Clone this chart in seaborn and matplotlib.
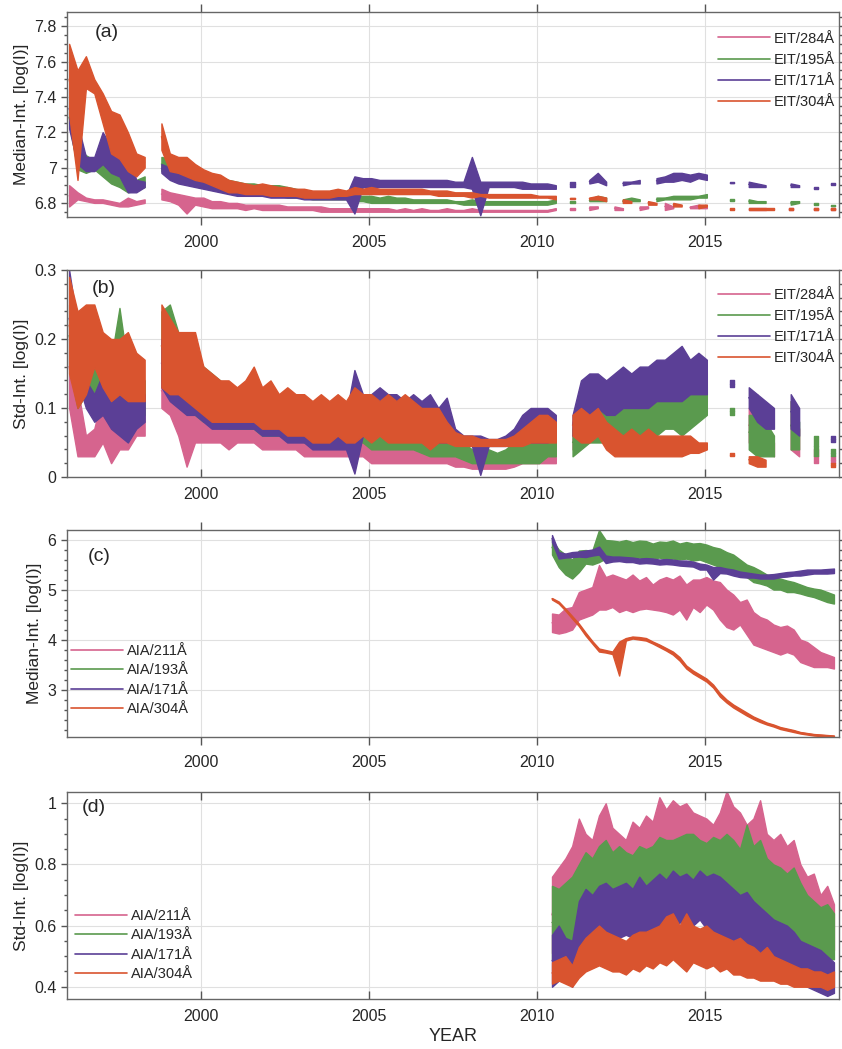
import numpy as np
import pandas as pd
import matplotlib
matplotlib.use("Agg")
import matplotlib.pyplot as plt
import seaborn as sns
from matplotlib.ticker import MultipleLocator, FuncFormatter
from matplotlib.lines import Line2D

N = np.nan

# EIT: one (low, high) pair per quarter year, 1996.00 ... 2018.75
eit_start, eit_step = 1996.0, 0.25
eit_names = ['EIT/284Å', 'EIT/195Å', 'EIT/171Å', 'EIT/304Å']

med_284 = [6.78, 6.90, 6.82, 6.86, 6.81, 6.83, 6.80, 6.82,
           6.80, 6.82, 6.79, 6.81, 6.78, 6.80, 6.78, 6.83,
           6.79, 6.81, 6.80, 6.82, N, N, 6.82, 6.88,
           6.81, 6.86, 6.79, 6.85, 6.74, 6.84, 6.79, 6.83,
           6.78, 6.83, 6.77, 6.81, 6.77, 6.81, 6.77, 6.80,
           6.77, 6.80, 6.76, 6.79, 6.77, 6.79, 6.76, 6.79,
           6.76, 6.79, 6.76, 6.79, 6.76, 6.78, 6.76, 6.78,
           6.76, 6.78, 6.76, 6.78, 6.75, 6.78, 6.75, 6.77,
           6.75, 6.77, 6.75, 6.77, 6.75, 6.77, 6.75, 6.77,
           6.75, 6.77, 6.75, 6.77, 6.75, 6.77, 6.75, 6.76,
           6.75, 6.77, 6.75, 6.76, 6.75, 6.77, 6.75, 6.76,
           6.75, 6.76, 6.75, 6.77, 6.75, 6.76, 6.75, 6.76,
           6.75, 6.77, 6.75, 6.76, 6.75, 6.76, 6.75, 6.76,
           6.75, 6.76, 6.75, 6.76, 6.75, 6.76, 6.75, 6.76,
           6.75, 6.76, 6.75, 6.76, 6.76, 6.77, N, N,
           6.76, 6.77, N, N, 6.76, 6.78, 6.77, 6.78,
           N, N, 6.76, 6.78, 6.76, 6.77, N, N,
           6.76, 6.78, 6.77, 6.78, N, N, 6.76, 6.80,
           6.77, 6.78, N, N, 6.77, 6.78, 6.77, 6.79,
           6.77, 6.78, N, N, N, N, N, N,
           N, N, 6.76, 6.77, 6.76, 6.77, 6.76, 6.77,
           N, N, N, N, 6.76, 6.77, N, N,
           N, N, 6.76, 6.77, N, N, 6.76, 6.77]

med_195 = [7.25, 7.32, 6.99, 7.12, 6.97, 7.07, 6.99, 7.04,
           6.95, 7.08, 6.91, 7.00, 6.89, 6.96, 6.86, 6.98,
           6.87, 6.93, 6.89, 6.95, N, N, 6.98, 7.06,
           6.96, 7.05, 6.94, 7.03, 6.93, 7.02, 6.92, 7.00,
           6.90, 6.98, 6.89, 6.96, 6.87, 6.95, 6.86, 6.93,
           6.85, 6.92, 6.85, 6.91, 6.85, 6.91, 6.84, 6.90,
           6.84, 6.90, 6.84, 6.90, 6.83, 6.89, 6.83, 6.88,
           6.83, 6.87, 6.82, 6.86, 6.82, 6.85, 6.82, 6.85,
           6.82, 6.85, 6.82, 6.84, 6.81, 6.84, 6.81, 6.84,
           6.80, 6.84, 6.80, 6.83, 6.80, 6.84, 6.80, 6.83,
           6.80, 6.83, 6.80, 6.82, 6.80, 6.82, 6.80, 6.82,
           6.80, 6.82, 6.80, 6.82, 6.80, 6.81, 6.79, 6.81,
           6.79, 6.82, 6.79, 6.81, 6.79, 6.81, 6.79, 6.81,
           6.79, 6.81, 6.79, 6.81, 6.79, 6.81, 6.79, 6.81,
           6.79, 6.81, 6.79, 6.81, 6.80, 6.82, N, N,
           6.80, 6.81, N, N, 6.81, 6.82, 6.81, 6.84,
           6.81, 6.83, N, N, 6.80, 6.82, 6.81, 6.83,
           6.81, 6.82, N, N, 6.81, 6.83, 6.82, 6.83,
           6.82, 6.84, 6.82, 6.84, 6.82, 6.84, 6.83, 6.84,
           6.83, 6.85, N, N, N, N, 6.81, 6.82,
           N, N, 6.80, 6.82, 6.80, 6.81, 6.80, 6.81,
           N, N, N, N, 6.79, 6.81, 6.80, 6.81,
           N, N, 6.79, 6.80, N, N, 6.78, 6.79]

med_171 = [7.22, 7.45, 7.02, 7.25, 6.98, 7.06, 6.98, 7.06,
           7.02, 7.20, 6.97, 7.12, 6.95, 7.10, 6.86, 7.08,
           6.86, 6.93, 6.89, 6.92, N, N, 6.97, 7.02,
           6.93, 7.00, 6.91, 6.98, 6.90, 6.97, 6.89, 6.95,
           6.88, 6.94, 6.87, 6.93, 6.86, 6.92, 6.85, 6.90,
           6.84, 6.89, 6.84, 6.88, 6.84, 6.88, 6.84, 6.88,
           6.83, 6.87, 6.83, 6.87, 6.83, 6.86, 6.83, 6.86,
           6.82, 6.85, 6.82, 6.85, 6.82, 6.84, 6.82, 6.84,
           6.82, 6.84, 6.82, 6.84, 6.74, 6.95, 6.89, 6.94,
           6.89, 6.94, 6.89, 6.93, 6.89, 6.93, 6.89, 6.93,
           6.89, 6.93, 6.89, 6.93, 6.89, 6.93, 6.89, 6.93,
           6.89, 6.93, 6.89, 6.93, 6.89, 6.92, 6.89, 6.92,
           6.88, 7.06, 6.73, 6.92, 6.89, 6.92, 6.89, 6.92,
           6.89, 6.92, 6.89, 6.92, 6.88, 6.92, 6.88, 6.91,
           6.88, 6.91, 6.88, 6.91, 6.88, 6.90, N, N,
           6.89, 6.92, N, N, 6.91, 6.93, 6.92, 6.97,
           6.90, 6.92, N, N, 6.90, 6.92, 6.91, 6.92,
           6.91, 6.93, N, N, 6.91, 6.94, 6.92, 6.95,
           6.92, 6.97, 6.93, 6.97, 6.92, 6.96, 6.94, 6.97,
           6.93, 6.96, N, N, N, N, 6.91, 6.92,
           N, N, 6.89, 6.92, 6.89, 6.91, 6.89, 6.90,
           N, N, N, N, 6.89, 6.91, 6.89, 6.90,
           N, N, 6.88, 6.89, N, N, 6.90, 6.91]

med_304 = [7.30, 7.70, 6.93, 7.55, 7.45, 7.63, 7.42, 7.50,
           7.25, 7.42, 7.08, 7.32, 7.05, 7.30, 6.98, 7.20,
           6.95, 7.08, 7.00, 7.06, N, N, 7.10, 7.25,
           6.98, 7.08, 6.97, 7.06, 6.95, 7.06, 6.93, 7.02,
           6.92, 6.99, 6.90, 6.97, 6.88, 6.96, 6.86, 6.93,
           6.86, 6.92, 6.85, 6.91, 6.85, 6.90, 6.85, 6.91,
           6.84, 6.90, 6.84, 6.89, 6.84, 6.89, 6.84, 6.88,
           6.83, 6.88, 6.83, 6.87, 6.83, 6.87, 6.83, 6.87,
           6.84, 6.88, 6.84, 6.87, 6.85, 6.89, 6.85, 6.88,
           6.85, 6.89, 6.85, 6.88, 6.85, 6.88, 6.85, 6.88,
           6.85, 6.88, 6.85, 6.88, 6.85, 6.88, 6.85, 6.87,
           6.84, 6.87, 6.84, 6.87, 6.84, 6.86, 6.84, 6.86,
           6.83, 6.86, 6.84, 6.85, 6.83, 6.85, 6.83, 6.85,
           6.83, 6.85, 6.83, 6.85, 6.83, 6.85, 6.83, 6.85,
           6.83, 6.84, 6.83, 6.84, 6.82, 6.84, N, N,
           6.82, 6.83, N, N, 6.82, 6.83, 6.82, 6.84,
           6.81, 6.83, N, N, 6.80, 6.82, 6.80, 6.81,
           N, N, 6.79, 6.81, 6.79, 6.80, N, N,
           6.78, 6.80, 6.78, 6.79, N, N, 6.77, 6.79,
           6.78, 6.79, N, N, N, N, 6.76, 6.77,
           N, N, 6.76, 6.77, 6.76, 6.77, 6.76, 6.77,
           6.76, 6.77, N, N, 6.76, 6.77, N, N,
           N, N, 6.76, 6.77, N, N, 6.76, 6.77]

std_284 = [0.10, 0.22, 0.03, 0.13, 0.03, 0.06, 0.03, 0.07,
           0.05, 0.12, 0.02, 0.10, 0.04, 0.10, 0.04, 0.09,
           0.06, 0.10, 0.06, 0.10, N, N, 0.10, 0.15,
           0.09, 0.14, 0.06, 0.13, 0.015, 0.12, 0.05, 0.11,
           0.05, 0.11, 0.05, 0.10, 0.05, 0.10, 0.04, 0.10,
           0.05, 0.09, 0.05, 0.09, 0.05, 0.09, 0.04, 0.09,
           0.04, 0.08, 0.04, 0.08, 0.04, 0.08, 0.04, 0.07,
           0.03, 0.07, 0.03, 0.07, 0.03, 0.06, 0.03, 0.07,
           0.03, 0.07, 0.03, 0.06, 0.03, 0.07, 0.03, 0.07,
           0.02, 0.07, 0.02, 0.06, 0.02, 0.06, 0.02, 0.06,
           0.02, 0.06, 0.02, 0.05, 0.02, 0.05, 0.02, 0.05,
           0.02, 0.05, 0.02, 0.05, 0.015, 0.04, 0.015, 0.03,
           0.012, 0.027, 0.012, 0.027, 0.012, 0.027, 0.012, 0.027,
           0.012, 0.027, 0.015, 0.03, 0.02, 0.04, 0.02, 0.04,
           0.02, 0.04, 0.02, 0.05, 0.02, 0.05, N, N,
           0.04, 0.08, 0.06, 0.11, 0.06, 0.11, 0.06, 0.12,
           0.07, 0.12, 0.08, 0.12, 0.08, 0.13, 0.08, 0.13,
           0.09, 0.14, 0.09, 0.14, 0.09, 0.15, 0.10, 0.15,
           0.10, 0.15, 0.10, 0.16, 0.11, 0.15, 0.11, 0.16,
           0.11, 0.15, N, N, N, N, N, N,
           N, N, 0.05, 0.10, 0.04, 0.12, 0.04, 0.08,
           0.03, 0.05, N, N, 0.04, 0.11, 0.03, 0.07,
           N, N, 0.02, 0.04, N, N, 0.02, 0.03]

std_195 = [0.16, 0.25, 0.10, 0.20, 0.12, 0.17, 0.09, 0.16,
           0.11, 0.19, 0.10, 0.17, 0.09, 0.245, 0.09, 0.16,
           0.09, 0.14, 0.09, 0.14, N, N, 0.14, 0.24,
           0.13, 0.25, 0.11, 0.21, 0.10, 0.20, 0.09, 0.18,
           0.08, 0.16, 0.08, 0.15, 0.08, 0.14, 0.07, 0.13,
           0.07, 0.13, 0.07, 0.13, 0.07, 0.12, 0.06, 0.12,
           0.06, 0.12, 0.06, 0.12, 0.06, 0.11, 0.06, 0.11,
           0.05, 0.11, 0.05, 0.10, 0.05, 0.10, 0.05, 0.10,
           0.05, 0.10, 0.05, 0.10, 0.05, 0.10, 0.05, 0.10,
           0.04, 0.10, 0.04, 0.09, 0.04, 0.09, 0.04, 0.09,
           0.04, 0.09, 0.04, 0.08, 0.035, 0.08, 0.03, 0.075,
           0.03, 0.075, 0.03, 0.07, 0.03, 0.06, 0.025, 0.05,
           0.02, 0.04, 0.02, 0.04, 0.02, 0.04, 0.02, 0.035,
           0.02, 0.04, 0.02, 0.05, 0.02, 0.06, 0.02, 0.06,
           0.02, 0.06, 0.03, 0.06, 0.03, 0.06, N, N,
           0.03, 0.07, 0.04, 0.09, 0.05, 0.10, 0.05, 0.12,
           0.05, 0.11, 0.05, 0.12, 0.05, 0.12, 0.06, 0.13,
           0.06, 0.12, 0.06, 0.13, 0.06, 0.13, 0.07, 0.14,
           0.07, 0.14, 0.06, 0.13, 0.07, 0.14, 0.08, 0.14,
           0.09, 0.13, N, N, N, N, 0.09, 0.10,
           N, N, 0.04, 0.09, 0.03, 0.09, 0.03, 0.08,
           0.03, 0.06, N, N, 0.04, 0.11, 0.04, 0.08,
           N, N, 0.03, 0.06, N, N, 0.03, 0.04]

std_171 = [0.16, 0.30, 0.14, 0.22, 0.10, 0.14, 0.08, 0.12,
           0.09, 0.15, 0.07, 0.15, 0.06, 0.14, 0.05, 0.14,
           0.07, 0.13, 0.08, 0.12, N, N, 0.13, 0.20,
           0.11, 0.19, 0.10, 0.17, 0.09, 0.16, 0.09, 0.15,
           0.08, 0.14, 0.07, 0.13, 0.07, 0.12, 0.07, 0.12,
           0.07, 0.12, 0.07, 0.11, 0.07, 0.11, 0.06, 0.11,
           0.06, 0.10, 0.06, 0.10, 0.05, 0.10, 0.05, 0.09,
           0.05, 0.09, 0.04, 0.09, 0.04, 0.08, 0.04, 0.08,
           0.04, 0.08, 0.04, 0.09, 0.005, 0.155, 0.06, 0.12,
           0.06, 0.12, 0.06, 0.13, 0.06, 0.12, 0.06, 0.12,
           0.06, 0.11, 0.06, 0.12, 0.06, 0.11, 0.05, 0.12,
           0.05, 0.10, 0.05, 0.115, 0.05, 0.07, 0.05, 0.06,
           0.045, 0.06, 0.003, 0.06, 0.045, 0.055, 0.045, 0.055,
           0.045, 0.06, 0.05, 0.07, 0.05, 0.09, 0.05, 0.10,
           0.05, 0.10, 0.05, 0.10, 0.06, 0.09, N, N,
           0.06, 0.09, 0.09, 0.14, 0.09, 0.15, 0.10, 0.15,
           0.09, 0.14, 0.09, 0.15, 0.10, 0.16, 0.10, 0.15,
           0.10, 0.16, 0.10, 0.16, 0.11, 0.17, 0.11, 0.17,
           0.11, 0.18, 0.11, 0.19, 0.12, 0.17, 0.12, 0.18,
           0.12, 0.17, N, N, N, N, 0.13, 0.14,
           N, N, 0.10, 0.13, 0.08, 0.12, 0.07, 0.11,
           0.07, 0.10, N, N, 0.07, 0.12, 0.06, 0.10,
           N, N, N, N, N, N, 0.05, 0.06]

std_304 = [0.15, 0.29, 0.10, 0.24, 0.12, 0.25, 0.16, 0.25,
           0.13, 0.21, 0.11, 0.20, 0.12, 0.20, 0.11, 0.21,
           0.11, 0.18, 0.11, 0.17, N, N, 0.13, 0.25,
           0.12, 0.23, 0.12, 0.21, 0.11, 0.21, 0.10, 0.21,
           0.09, 0.16, 0.08, 0.15, 0.08, 0.14, 0.08, 0.14,
           0.08, 0.13, 0.08, 0.14, 0.08, 0.16, 0.07, 0.13,
           0.07, 0.14, 0.07, 0.12, 0.06, 0.13, 0.06, 0.12,
           0.06, 0.12, 0.05, 0.11, 0.05, 0.12, 0.05, 0.11,
           0.06, 0.12, 0.05, 0.11, 0.05, 0.13, 0.06, 0.12,
           0.05, 0.12, 0.06, 0.11, 0.05, 0.12, 0.05, 0.11,
           0.05, 0.12, 0.05, 0.11, 0.05, 0.10, 0.04, 0.10,
           0.05, 0.10, 0.05, 0.08, 0.045, 0.065, 0.045, 0.06,
           0.045, 0.06, 0.045, 0.055, 0.045, 0.055, 0.045, 0.055,
           0.045, 0.055, 0.045, 0.06, 0.045, 0.07, 0.05, 0.08,
           0.05, 0.09, 0.05, 0.09, 0.05, 0.08, N, N,
           0.06, 0.09, 0.05, 0.10, 0.05, 0.09, 0.06, 0.10,
           0.04, 0.08, 0.03, 0.07, 0.03, 0.06, 0.03, 0.07,
           0.03, 0.06, 0.03, 0.07, 0.03, 0.06, 0.03, 0.06,
           0.03, 0.06, 0.03, 0.06, 0.035, 0.06, 0.035, 0.05,
           0.04, 0.05, N, N, N, N, 0.03, 0.035,
           N, N, 0.02, 0.03, 0.015, 0.03, 0.015, 0.025,
           N, N, N, N, N, N, N, N,
           N, N, N, N, N, N, 0.015, 0.02]

# AIA: one (low, high) pair per 0.2 year, 2010.4 ... 2018.8
aia_start, aia_step = 2010.4, 0.2
aia_names = ['AIA/211Å', 'AIA/193Å', 'AIA/171Å', 'AIA/304Å']

aia_med_211 = [4.15, 4.52, 4.12, 4.50, 4.15, 4.62, 4.20, 4.65, 4.40, 4.95,
               4.45, 5.00, 4.50, 5.05, 4.60, 5.49, 4.60, 5.25, 4.65, 5.30,
               4.55, 5.25, 4.60, 5.20, 4.55, 5.30, 4.60, 5.18, 4.62, 5.25,
               4.60, 5.10, 4.58, 5.20, 4.55, 5.25, 4.50, 5.20, 4.60, 5.28,
               4.40, 5.10, 4.65, 5.20, 4.55, 5.20, 4.70, 5.25, 4.60, 5.18,
               4.40, 5.15, 4.25, 5.00, 4.20, 4.90, 4.30, 4.75, 4.10, 4.80,
               3.90, 4.55, 3.85, 4.45, 3.80, 4.40, 3.75, 4.30, 3.70, 4.25,
               3.75, 4.28, 3.70, 4.20, 3.55, 4.00, 3.50, 3.95, 3.45, 3.85,
               3.45, 3.75, 3.45, 3.70, 3.42, 3.65]

aia_med_193 = [5.70, 5.99, 5.45, 5.80, 5.30, 5.70, 5.22, 5.60, 5.35, 5.78,
               5.52, 5.79, 5.50, 5.78, 5.55, 6.19, 5.62, 5.99, 5.65, 5.98,
               5.62, 5.96, 5.65, 5.99, 5.62, 5.95, 5.64, 5.98, 5.62, 5.97,
               5.62, 5.92, 5.64, 5.96, 5.60, 5.95, 5.62, 5.98, 5.60, 5.92,
               5.62, 5.95, 5.58, 5.92, 5.60, 5.93, 5.55, 5.90, 5.50, 5.85,
               5.45, 5.82, 5.40, 5.75, 5.38, 5.70, 5.30, 5.60, 5.25, 5.50,
               5.15, 5.45, 5.12, 5.38, 5.08, 5.30, 5.00, 5.25, 5.00, 5.22,
               4.95, 5.18, 4.95, 5.15, 4.92, 5.10, 4.88, 5.05, 4.85, 5.02,
               4.80, 5.00, 4.75, 4.95, 4.72, 4.90]

aia_med_171 = [5.95, 6.09, 5.62, 5.75, 5.64, 5.72, 5.65, 5.75, 5.66, 5.76,
               5.65, 5.78, 5.68, 5.80, 5.70, 5.86, 5.53, 5.68, 5.56, 5.66,
               5.57, 5.66, 5.55, 5.65, 5.55, 5.64, 5.52, 5.62, 5.53, 5.63,
               5.52, 5.62, 5.50, 5.60, 5.51, 5.61, 5.50, 5.60, 5.48, 5.58,
               5.47, 5.58, 5.46, 5.56, 5.40, 5.52, 5.40, 5.50, 5.20, 5.45,
               5.33, 5.45, 5.32, 5.42, 5.28, 5.40, 5.25, 5.36, 5.24, 5.34,
               5.24, 5.32, 5.22, 5.30, 5.22, 5.30, 5.22, 5.31, 5.25, 5.33,
               5.26, 5.35, 5.28, 5.36, 5.28, 5.38, 5.30, 5.40, 5.32, 5.40,
               5.32, 5.40, 5.32, 5.41, 5.33, 5.42]

aia_med_304 = [4.80, 4.83, 4.72, 4.76, 4.58, 4.62, 4.42, 4.47, 4.27, 4.32,
               4.08, 4.14, 3.92, 3.97, 3.76, 3.82, 3.74, 3.79, 3.71, 3.76,
               3.28, 3.96, 3.98, 4.03, 4.02, 4.06, 4.00, 4.05, 3.98, 4.03,
               3.92, 3.96, 3.85, 3.90, 3.78, 3.83, 3.70, 3.76, 3.58, 3.65,
               3.42, 3.48, 3.32, 3.38, 3.24, 3.30, 3.16, 3.22, 3.04, 3.10,
               2.86, 2.93, 2.74, 2.80, 2.64, 2.70, 2.56, 2.62, 2.48, 2.54,
               2.41, 2.46, 2.35, 2.40, 2.30, 2.34, 2.26, 2.30, 2.21, 2.25,
               2.18, 2.22, 2.15, 2.19, 2.12, 2.15, 2.10, 2.13, 2.08, 2.11,
               2.07, 2.10, 2.06, 2.09, 2.05, 2.08]

aia_std_211 = [0.51, 0.76, 0.64, 0.79, 0.62, 0.82, 0.66, 0.86, 0.70, 0.95,
               0.68, 0.90, 0.72, 0.88, 0.70, 0.96, 0.74, 1.00, 0.72, 0.92,
               0.72, 0.90, 0.74, 0.88, 0.76, 0.94, 0.75, 0.92, 0.78, 0.96,
               0.74, 0.94, 0.76, 1.02, 0.78, 0.98, 0.76, 1.01, 0.78, 0.99,
               0.80, 1.00, 0.77, 0.97, 0.78, 0.96, 0.76, 0.95, 0.78, 0.93,
               0.74, 0.97, 0.78, 1.04, 0.76, 0.99, 0.72, 0.97, 0.70, 0.93,
               0.68, 0.95, 0.66, 1.01, 0.66, 0.90, 0.64, 0.88, 0.62, 0.90,
               0.60, 0.86, 0.58, 0.88, 0.56, 0.80, 0.55, 0.76, 0.54, 0.77,
               0.53, 0.70, 0.52, 0.73, 0.52, 0.67]

aia_std_193 = [0.49, 0.73, 0.52, 0.72, 0.53, 0.74, 0.54, 0.76, 0.58, 0.80,
               0.60, 0.84, 0.62, 0.82, 0.62, 0.86, 0.63, 0.88, 0.62, 0.84,
               0.63, 0.86, 0.64, 0.84, 0.62, 0.83, 0.64, 0.86, 0.63, 0.85,
               0.64, 0.86, 0.65, 0.89, 0.64, 0.88, 0.66, 0.88, 0.65, 0.89,
               0.66, 0.90, 0.64, 0.90, 0.65, 0.88, 0.64, 0.87, 0.65, 0.89,
               0.64, 0.88, 0.65, 0.90, 0.63, 0.88, 0.62, 0.85, 0.62, 0.93,
               0.60, 0.86, 0.60, 0.88, 0.58, 0.82, 0.57, 0.80, 0.56, 0.79,
               0.55, 0.77, 0.54, 0.79, 0.52, 0.74, 0.51, 0.70, 0.50, 0.68,
               0.50, 0.66, 0.49, 0.67, 0.49, 0.64]

aia_std_171 = [0.40, 0.57, 0.42, 0.60, 0.42, 0.56, 0.40, 0.55, 0.48, 0.68,
               0.53, 0.72, 0.52, 0.70, 0.56, 0.73, 0.56, 0.74, 0.55, 0.72,
               0.56, 0.73, 0.57, 0.74, 0.56, 0.72, 0.58, 0.76, 0.57, 0.73,
               0.58, 0.75, 0.60, 0.77, 0.59, 0.75, 0.60, 0.78, 0.61, 0.76,
               0.61, 0.77, 0.60, 0.75, 0.62, 0.78, 0.59, 0.76, 0.58, 0.77,
               0.57, 0.76, 0.56, 0.74, 0.54, 0.72, 0.53, 0.70, 0.52, 0.71,
               0.50, 0.68, 0.49, 0.66, 0.47, 0.64, 0.46, 0.62, 0.44, 0.61,
               0.43, 0.60, 0.42, 0.58, 0.41, 0.55, 0.40, 0.54, 0.39, 0.53,
               0.38, 0.52, 0.37, 0.50, 0.38, 0.48]

aia_std_304 = [0.41, 0.48, 0.42, 0.49, 0.41, 0.50, 0.40, 0.47, 0.43, 0.53,
               0.45, 0.56, 0.46, 0.58, 0.47, 0.60, 0.46, 0.58, 0.45, 0.57,
               0.45, 0.56, 0.44, 0.55, 0.46, 0.57, 0.45, 0.58, 0.47, 0.58,
               0.46, 0.59, 0.48, 0.60, 0.47, 0.63, 0.49, 0.64, 0.47, 0.60,
               0.45, 0.64, 0.48, 0.60, 0.47, 0.59, 0.46, 0.60, 0.47, 0.58,
               0.45, 0.57, 0.46, 0.56, 0.44, 0.55, 0.44, 0.56, 0.43, 0.54,
               0.43, 0.53, 0.42, 0.51, 0.42, 0.53, 0.42, 0.50, 0.41, 0.49,
               0.41, 0.48, 0.40, 0.47, 0.40, 0.46, 0.40, 0.46, 0.40, 0.45,
               0.40, 0.45, 0.39, 0.44, 0.40, 0.45]

colors = ['#d6648e', '#5a9a4e', '#5b3f96', '#d9542f']


def to_frame(pairs, start, step):
    # long table of (year, value, segment): low and high of each bin at the bin centre;
    # NaN bins split the series, a lone bin is kept at both of its edges
    v = np.array(pairs, dtype=float).reshape(-1, 2)
    t = start + step * np.arange(len(v))
    ok = ~np.isnan(v[:, 0])
    seg = np.cumsum(~ok)
    rows = []
    for s in np.unique(seg[ok]):
        idx = np.where(ok & (seg == s))[0]
        xs = [(t[i], i) for i in idx] if len(idx) > 1 else [(t[idx[0]] - step / 4, idx[0]),
                                                            (t[idx[0]] + step / 4, idx[0])]
        for x, i in xs:
            rows.append((x + step / 4, v[i, 0], s))
            rows.append((x + step / 4, v[i, 1], s))
    return pd.DataFrame(rows, columns=['year', 'val', 'seg'])


sns.set_style('white')
plt.rcParams['font.family'] = ['Liberation Sans', 'DejaVu Sans']

fig = plt.figure(figsize=(8.42, 10.49), dpi=100)
lefts, width = 0.0796, 0.9168
panels = [
    dict(pos=0.7931, h=0.1954, series=[med_284, med_195, med_171, med_304], names=eit_names,
         start=eit_start, step=eit_step, ylim=(6.72, 7.88), yt=np.arange(6.8, 7.81, 0.2),
         minor=0.05, ylabel='Median-Int. [log(I)]', tag='(a)', tagxy=(0.036, 0.902),
         xdir='out', loc='upper right', anchor=(0.995, 0.905), ls=0.5),
    dict(pos=0.5453, h=0.1973, series=[std_284, std_195, std_171, std_304], names=eit_names,
         start=eit_start, step=eit_step, ylim=(0, 0.3), yt=np.arange(0, 0.31, 0.1),
         minor=0.02, ylabel='Std-Int. [log(I)]', tag='(b)', tagxy=(0.032, 0.913),
         xdir='in', loc='upper right', anchor=(0.995, 0.915), ls=0.5),
    dict(pos=0.2974, h=0.1973, series=[aia_med_211, aia_med_193, aia_med_171, aia_med_304],
         names=aia_names, start=aia_start, step=aia_step, ylim=(2.05, 6.19),
         yt=np.arange(3, 6.1, 1), minor=0.2, ylabel='Median-Int. [log(I)]', tag='(c)',
         tagxy=(0.027, 0.87), xdir='out', loc='lower left', anchor=(0.005, 0.10), ls=0.38),
    dict(pos=0.0477, h=0.1973, series=[aia_std_211, aia_std_193, aia_std_171, aia_std_304],
         names=aia_names, start=aia_start, step=aia_step, ylim=(0.36, 1.037),
         yt=np.arange(0.4, 1.01, 0.2), minor=0.05, ylabel='Std-Int. [log(I)]', tag='(d)',
         tagxy=(0.019, 0.923), xdir='in', loc='lower left', anchor=(0.01, 0.085), ls=0.38),
]

for p in panels:
    ax = fig.add_axes([lefts, p['pos'], width, p['h']])
    for k, (vals, col) in enumerate(zip(p['series'], colors)):
        df = to_frame(vals, p['start'], p['step'])
        z = 2 + k
        for _, part in df.groupby('seg'):
            # min-max band of each bin, drawn by seaborn's interval
            sns.lineplot(data=part, x='year', y='val', estimator='mean', errorbar=('pi', 100),
                         color=col, lw=1.0, ax=ax, legend=False, zorder=z + 0.5,
                         err_kws={'alpha': 1, 'linewidth': 1.0, 'edgecolor': col, 'zorder': z})
    ax.set_xlim(1996.0, 2019.0)
    ax.set_ylim(*p['ylim'])
    ax.set_xticks([2000, 2005, 2010, 2015])
    ax.set_yticks(p['yt'])
    ax.yaxis.set_minor_locator(MultipleLocator(p['minor']))
    ax.yaxis.set_major_formatter(FuncFormatter(lambda v, _: f'{v:g}'))
    ax.grid(True, which='major', color='#e0e0e0', lw=0.8)
    ax.set_axisbelow(True)
    for s in ax.spines.values():
        s.set_color('#666666')
        s.set_linewidth(1.0)
        s.set_zorder(10)
    ax.tick_params(axis='x', which='major', direction=p['xdir'], length=6, width=1,
                   top=True, bottom=True, color='#555555', labelsize=11.5, pad=7)
    ax.tick_params(axis='y', which='both', direction='out', left=True, right=True,
                   color='#555555', width=1, labelsize=11.5)
    ax.tick_params(axis='y', which='major', length=4)
    ax.tick_params(axis='y', which='minor', length=2.5)
    ax.set_ylabel(p['ylabel'], fontsize=12.5, labelpad=4)
    ax.set_xlabel('')
    ax.text(*p['tagxy'], p['tag'], transform=ax.transAxes, fontsize=14,
            ha='left', va='center', zorder=11)
    handles = [Line2D([], [], color=c, lw=1.2) for c in colors]
    leg = ax.legend(handles, p['names'], loc=p['loc'], bbox_to_anchor=p['anchor'],
                    frameon=False, fontsize=10.5, handlelength=3.6, handletextpad=0.25,
                    labelspacing=p['ls'], borderaxespad=0, borderpad=0)
    leg.set_zorder(12)

fig.text(0.538, 0.012, 'YEAR', ha='center', va='center', fontsize=13)

fig.savefig('out.png', dpi=100)
